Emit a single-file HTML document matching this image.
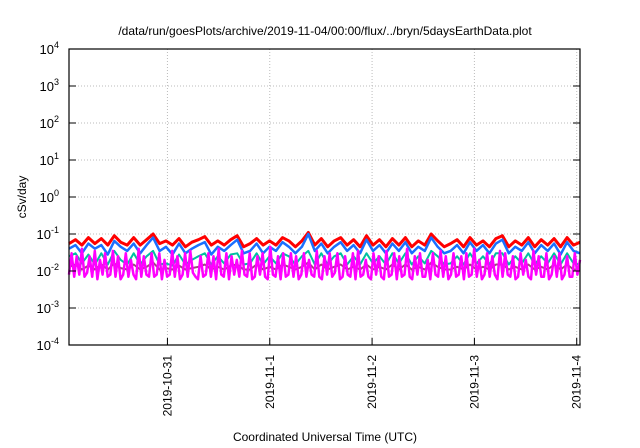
<!DOCTYPE html>
<html><head><meta charset="utf-8"><style>
body{margin:0;background:#fff;}
svg{display:block;font-family:"Liberation Sans",sans-serif;}
</style></head><body>
<svg id="chart" width="640" height="448" viewBox="0 0 640 448">
<text x="325" y="35" font-size="12" text-anchor="middle">/data/run/goesPlots/archive/2019-11-04/00:00/flux/../bryn/5daysEarthData.plot</text>
<text transform="translate(26,197) rotate(-90)" font-size="12" text-anchor="middle">cSv/day</text>
<text x="325" y="441" font-size="12" text-anchor="middle">Coordinated Universal Time (UTC)</text>
<g id="grid"></g><g id="series"></g><g id="axes"></g>
</svg>
<script>
const yExponents=[-4,-3,-2,-1,0,1,2,3,4];
const xTickDays=[1,2,3,4,5];
const xTickLabels=["2019-10-31","2019-11-1","2019-11-2","2019-11-3","2019-11-4"];
const red=[5.5,7,5,8,5.5,7.5,5,9,6,5,8,5,7,10,5.5,6.5,5,7.5,4.5,6,7,8.5,5,6.5,5,7,9,4.5,5.5,7.5,5,6.5,5,8,6.5,4.5,6.5,11,5,7.5,4.5,6.5,8,5,7,4.5,9,5,7,4.5,7.5,5,8,4.5,6.5,5,10,6.5,4.5,5.5,7,4.5,8,5,6.5,4.5,7.5,9,4.5,6.5,5,8,4.5,7,5,7.5,4.5,8,5,6];
const blue=[4,5,3,5.5,4,5,2.8,6.5,4.5,3.5,5.5,3,5,8,3.5,4.5,2.8,5.5,3,4,5,6,2.8,4.5,3.5,5,7,3,3.5,5.5,3,4.5,3.5,6,4.5,3,4.5,10,3.5,5.5,3,4.5,6,3.5,5,3,7,3.5,5,3,5.5,3.5,6,3,4.5,3.5,8,4.5,3,3.5,5,3,6,3.5,5,3,5.5,7,3,4.5,3.5,6,3,5,3.5,5.5,2.8,6,3.5,3];
const teal=[2.5,3,1.6,2.8,1.5,3,1.5,3.5,2,1.5,3,1.5,2.5,3.5,1.5,1.6,1.4,2.8,1.5,2,2.5,3,1.5,2.5,1.6,2.8,3,1.5,1.6,3,1.5,2.5,1.6,3,2.5,1.5,2.5,3.5,1.5,3,1.5,2.5,3,1.5,2.5,1.5,3,1.6,2.5,1.5,3,1.6,3,1.5,2.5,1.6,3.5,2.5,1.5,1.6,2.5,1.5,3,1.6,2.5,1.5,3,3,1.5,2.5,1.6,3,1.5,2.5,1.6,3,1.5,3,1.6,1.5];
const purple=[1.3,1.5,1.1,1.4,1.1,1.5,1.1,1.6,1.2,1.1,1.5,1.1,1.3,1.7,1.1,1.2,1.1,1.4,1.1,1.2,1.3,1.5,1.1,1.3,1.1,1.4,1.5,1.1,1.1,1.5,1.1,1.3,1.1,1.5,1.3,1.1,1.3,1.7,1.1,1.5,1.1,1.3,1.5,1.1,1.3,1.1,1.5,1.1,1.3,1.1,1.5,1.1,1.5,1.1,1.3,1.1,1.7,1.3,1.1,1.1,1.3,1.1,1.5,1.1,1.3,1.1,1.5,1.5,1.1,1.3,1.1,1.5,1.1,1.3,1.1,1.5,1.1,1.5,1.1,1.1];
const magenta=[0.8,3,0.7,2.5,0.8,4,0.7,0.9,2.5,0.7,3.5,0.6,2,0.8,3,0.7,0.8,3.5,0.7,2.5,0.6,0.8,3,0.7,2,0.8,0.6,4,0.7,2.5,0.8,0.7,3,0.7,0.8,3,0.6,2,0.7,0.8,3.5,0.7,2.5,0.6,0.8,3,0.7,3.5,0.9,0.7,0.6,2.5,0.7,0.8,3,0.7,2.5,0.6,4,0.8,0.7,3,0.6,2.5,0.8,2,0.7,3.5,0.8,0.7,3,0.6,0.7,2.5,0.8,3,0.7,0.6,4.5,0.8,0.7,2.5,0.6,3,0.7,0.8,3,0.7,2.5,0.6,0.8,3,0.7,2,0.8,0.7,3.5,0.7,0.6,2.5,0.8,3,0.7,0.9,3,0.6,0.7,2.5,0.8,0.7,3,0.6,3.5,0.7,0.8,2,0.7,0.6,3,0.8,2.5,0.7,0.6,3.5,0.7,0.8,3,0.6,2.5,0.7,0.8,4,0.7,0.6,2.5,0.8,3,0.7,0.7,2,0.6,3,0.8,0.7,3.5,0.7,2.5,0.6,0.8,3,0.7,0.8,2.5,0.6,3,0.7,0.8,4,0.7,2,0.6,0.8,3,0.7,2.5,0.8,0.6,3.5,0.7,3,0.8,0.7,2.5,0.6,0.7,3,0.8,2,0.7,0.6,3.5,0.8,2.5,0.7,0.7,3,0.6,0.8,2.5,0.7,3,0.6,0.8,2.5,0.7,0.7,3,0.8,2];
const valueScale=0.01;
const tStart=0.038, tEnd=5.032;
const L=69,R=580,T=49,B=345;
const NS="http://www.w3.org/2000/svg";
function X(t){return L+(t-tStart)/(tEnd-tStart)*(R-L);}
function Y(v){return B-(Math.log10(v)+4)/8*(B-T);}
function mk(tag,attrs,parent){const e=document.createElementNS(NS,tag);for(const k in attrs)e.setAttribute(k,attrs[k]);parent.appendChild(e);return e;}
const grid=document.getElementById('grid'),axes=document.getElementById('axes'),ser=document.getElementById('series');
yExponents.forEach(e=>{
  const y=Y(Math.pow(10,e));
  if(e>-4&&e<4){const g=mk('line',{x1:L,x2:R,y1:y,y2:y,stroke:'#bbb','stroke-dasharray':'1,2','stroke-width':1},grid);
  
  }
  const tk=mk('line',{x1:L,x2:L+7,y1:y,y2:y,stroke:'#000'},axes);
  
  
  const tk2=mk('line',{x1:R-7,x2:R,y1:y,y2:y,stroke:'#000'},axes);
  
  
  const t=mk('text',{x:L-10,y:y+5,'font-size':13,'text-anchor':'end'},axes);
  
  
  t.textContent='10';
  const s=mk('tspan',{dy:-6,'font-size':9},t);s.textContent=String(e);
});
xTickDays.forEach((d,i)=>{
  const x=X(d);
  const g=mk('line',{x1:x,x2:x,y1:T,y2:B,stroke:'#bbb','stroke-dasharray':'1,2'},grid);
  
  
  const tk=mk('line',{x1:x,x2:x,y1:B-7,y2:B,stroke:'#000'},axes);
  
  
  const t=mk('text',{transform:`translate(${x+4},${B+10}) rotate(-90)`,'font-size':12,'text-anchor':'end'},axes);
  
  
  t.textContent=xTickLabels[i];
});
const fr=mk('rect',{x:L,y:T,width:R-L,height:B-T,fill:'none',stroke:'#000','stroke-width':1.2},axes);


function drawSeries(arr,color,name,w){
  const n=arr.length;
  const pts=arr.map((v,i)=>X(tStart+i*(tEnd-tStart)/(n-1)).toFixed(1)+','+Y(v*valueScale).toFixed(1)).join(' ');
  const p=mk('polyline',{points:pts,fill:'none',stroke:color,'stroke-width':w,'stroke-linejoin':'round'},ser);
  
  
}
drawSeries(red,'#ff0000','series-red',3);
drawSeries(blue,'#1a6fff','series-blue',2.5);
drawSeries(teal,'#00c0a0','series-teal',2);
drawSeries(purple,'#9a4a7a','series-purple',2);
drawSeries(magenta,'#ff00ff','series-magenta',2.5);
</script>
</body></html>
